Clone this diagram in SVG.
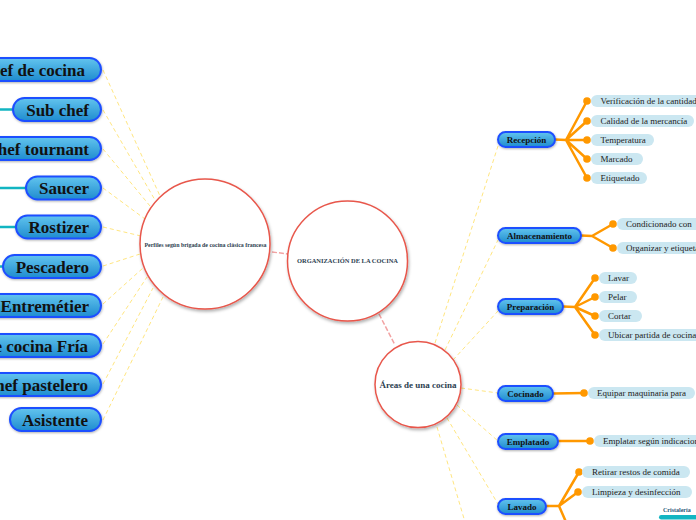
<svg xmlns="http://www.w3.org/2000/svg" width="696" height="520" viewBox="0 0 696 520">
<defs>
<linearGradient id="gBlue" x1="0" y1="0" x2="0" y2="1">
<stop offset="0" stop-color="#62c4ee"/>
<stop offset="1" stop-color="#1f8ccf"/>
</linearGradient>
<filter id="sh" x="-20%" y="-20%" width="140%" height="140%">
<feDropShadow dx="1" dy="2" stdDeviation="1.5" flood-color="#000" flood-opacity="0.3"/>
</filter>
<filter id="sh2" x="-20%" y="-40%" width="140%" height="180%">
<feDropShadow dx="0.5" dy="1" stdDeviation="0.8" flood-color="#000" flood-opacity="0.3"/>
</filter>
</defs>
<style>
.circ{fill:#fff;stroke:#e8574b;stroke-width:1.5;filter:url(#sh)}
.ct{font-family:"Liberation Serif",serif;font-weight:bold;fill:#2c3e50;text-anchor:middle}
.bn{fill:url(#gBlue);stroke:#1f4fff;stroke-width:2;filter:url(#sh2)}
.bt{font-family:"Liberation Serif",serif;font-weight:bold;fill:#111;font-size:17px;text-anchor:end}
.bts{font-family:"Liberation Serif",serif;font-weight:bold;fill:#111;font-size:9px;text-anchor:middle}
.lp{fill:#cbe7f1}
.lt{font-family:"Liberation Serif",serif;fill:#222;font-size:9px}
.dot{fill:#ff9800}
.ol{stroke:#ff9800;stroke-width:2.5;fill:none;stroke-linecap:round}
.yl{stroke:#ffe680;stroke-width:1;stroke-dasharray:4 3;fill:none}
.pl{stroke:#f2a3a3;stroke-width:1.5;stroke-dasharray:5 2;fill:none}
.tl{stroke:#12b5c2;stroke-width:2.5;fill:none}
</style>

<g id="connectors">
<line class="tl" x1="0" y1="109.5" x2="13" y2="109.5"/>
<line class="tl" x1="0" y1="188" x2="26" y2="188"/>
<line class="tl" x1="0" y1="227" x2="16" y2="227"/>
<line class="tl" x1="0" y1="266.5" x2="3" y2="266.5"/>
<line class="yl" x1="103" y1="70" x2="160" y2="196"/>
<line class="yl" x1="103" y1="110" x2="155" y2="200"/>
<line class="yl" x1="103" y1="149" x2="150" y2="206"/>
<line class="yl" x1="103" y1="188" x2="145" y2="219"/>
<line class="yl" x1="103" y1="227" x2="141" y2="236"/>
<line class="yl" x1="103" y1="266" x2="140" y2="254"/>
<line class="yl" x1="103" y1="304" x2="143" y2="268"/>
<line class="yl" x1="103" y1="344" x2="147" y2="277"/>
<line class="yl" x1="103" y1="384" x2="153" y2="288"/>
<line class="yl" x1="103" y1="420" x2="163" y2="297"/>
<line class="pl" x1="272" y1="252" x2="288" y2="254"/>
<line class="pl" x1="379" y1="314" x2="395" y2="345"/>
<line class="yl" x1="435" y1="343" x2="498" y2="146"/>
<line class="yl" x1="445" y1="350" x2="498" y2="240"/>
<line class="yl" x1="453" y1="360" x2="498" y2="311"/>
<line class="yl" x1="461" y1="388" x2="498" y2="393"/>
<line class="yl" x1="457" y1="405" x2="498" y2="441"/>
<line class="yl" x1="447" y1="418" x2="498" y2="504"/>
<line class="yl" x1="437" y1="427" x2="465" y2="522"/>
<path class="ol" d="M555 139.5 L566 140 M566 140 L587 101 M566 140 L587 121 M566 140 L587 140 M566 140 L587 159 M566 140 L587 178"/>
<path class="ol" d="M581 235.5 L592 236 M592 236 L613 224 M592 236 L613 248"/>
<path class="ol" d="M563 306.5 L575 307 M575 307 L595 278 M575 307 L595 297 M575 307 L595 316 M575 307 L595 335"/>
<path class="ol" d="M553 393.5 L584 393"/>
<path class="ol" d="M558 441 L590 441"/>
<path class="ol" d="M546 506 L559 506 M559 506 L579 472 M559 506 L578 492 M559 506 L566 522"/>
</g>

<g id="n-organizacion">
<circle class="circ" cx="347.5" cy="261" r="60"/>
<text class="ct" x="347.5" y="263" font-size="6.2" textLength="101" lengthAdjust="spacingAndGlyphs">ORGANIZACIÓN DE LA COCINA</text>
</g>

<g id="n-perfiles">
<circle class="circ" cx="205" cy="244" r="65"/>
<text class="ct" x="205.5" y="247" font-size="5.6" textLength="122" lengthAdjust="spacingAndGlyphs">Perfiles según brigada de cocina clásica francesa</text>
</g>

<g id="n-areas">
<circle class="circ" cx="418" cy="384.5" r="43"/>
<text class="ct" x="418" y="388" font-size="9">Áreas de una cocina</text>
</g>

<g id="n-chef-cocina"><rect class="bn" x="-31" y="58" width="132" height="23" rx="11.5"/><text class="bt" x="85" y="75.5">Chef de cocina</text></g>
<g id="n-sub-chef"><rect class="bn" x="13" y="98" width="88" height="23" rx="11.5"/><text class="bt" x="89" y="115.5">Sub chef</text></g>
<g id="n-chef-tournant"><rect class="bn" x="-27" y="137" width="128" height="23" rx="11.5"/><text class="bt" x="89" y="154.5">Chef tournant</text></g>
<g id="n-saucer"><rect class="bn" x="26" y="176.5" width="75" height="23" rx="11.5"/><text class="bt" x="89" y="194">Saucer</text></g>
<g id="n-rostizer"><rect class="bn" x="16" y="215.5" width="85" height="23" rx="11.5"/><text class="bt" x="89" y="233">Rostizer</text></g>
<g id="n-pescadero"><rect class="bn" x="3" y="255" width="98" height="23" rx="11.5"/><text class="bt" x="89" y="272.5">Pescadero</text></g>
<g id="n-entremetier"><rect class="bn" x="-12" y="294" width="113" height="23" rx="11.5"/><text class="bt" x="89" y="311.5">Entremétier</text></g>
<g id="n-chef-fria"><rect class="bn" x="-70" y="334" width="171" height="23" rx="11.5"/><text class="bt" x="88" y="351.5">Chef de cocina Fría</text></g>
<g id="n-chef-pastelero"><rect class="bn" x="-35" y="373" width="136" height="23" rx="11.5"/><text class="bt" x="88" y="390.5">Chef pastelero</text></g>
<g id="n-asistente"><rect class="bn" x="10" y="408" width="91" height="23" rx="11.5"/><text class="bt" x="88" y="425.5">Asistente</text></g>

<g id="n-recepcion"><rect class="bn" x="498" y="132" width="57" height="15" rx="7.5" stroke-width="1.5"/><text class="bts" x="526.5" y="142.5">Recepción</text></g>
<g id="n-almacenamiento"><rect class="bn" x="498" y="228" width="83" height="15" rx="7.5" stroke-width="1.5"/><text class="bts" x="539.5" y="238.5">Almacenamiento</text></g>
<g id="n-preparacion"><rect class="bn" x="498" y="299" width="65" height="15" rx="7.5" stroke-width="1.5"/><text class="bts" x="530.5" y="309.5">Preparación</text></g>
<g id="n-cocinado"><rect class="bn" x="498" y="386" width="55" height="15" rx="7.5" stroke-width="1.5"/><text class="bts" x="525.5" y="396.5">Cocinado</text></g>
<g id="n-emplatado"><rect class="bn" x="498" y="434" width="60" height="15" rx="7.5" stroke-width="1.5"/><text class="bts" x="528" y="444.5">Emplatado</text></g>
<g id="n-lavado"><rect class="bn" x="498" y="499" width="48" height="15" rx="7.5" stroke-width="1.5"/><text class="bts" x="522" y="510" font-size="11">Lavado</text></g>

<g id="n-verificacion"><circle class="dot" cx="587" cy="101" r="3.8"/><rect class="lp" x="591" y="95" width="120" height="12" rx="6"/><text class="lt" x="600.5" y="104">Verificación de la cantidad</text></g>
<g id="n-calidad"><circle class="dot" cx="587" cy="121" r="3.8"/><rect class="lp" x="591" y="115" width="103" height="12" rx="6"/><text class="lt" x="600.5" y="124">Calidad de la mercancía</text></g>
<g id="n-temperatura"><circle class="dot" cx="587" cy="140" r="3.8"/><rect class="lp" x="591" y="134" width="63" height="12" rx="6"/><text class="lt" x="600.5" y="143">Temperatura</text></g>
<g id="n-marcado"><circle class="dot" cx="587" cy="159" r="3.8"/><rect class="lp" x="591" y="153" width="52" height="12" rx="6"/><text class="lt" x="600.5" y="162">Marcado</text></g>
<g id="n-etiquetado"><circle class="dot" cx="587" cy="178" r="3.8"/><rect class="lp" x="591" y="172" width="56" height="12" rx="6"/><text class="lt" x="600.5" y="181">Etiquetado</text></g>

<g id="n-condicionado"><circle class="dot" cx="613" cy="224" r="3.8"/><rect class="lp" x="617" y="218" width="100" height="12" rx="6"/><text class="lt" x="626" y="227">Condicionado con</text></g>
<g id="n-organizar"><circle class="dot" cx="613" cy="248" r="3.8"/><rect class="lp" x="617" y="242" width="100" height="12" rx="6"/><text class="lt" x="626" y="251">Organizar y etiquetar</text></g>

<g id="n-lavar"><circle class="dot" cx="595" cy="278" r="3.8"/><rect class="lp" x="599" y="272" width="38" height="12" rx="6"/><text class="lt" x="608" y="281">Lavar</text></g>
<g id="n-pelar"><circle class="dot" cx="595" cy="297" r="3.8"/><rect class="lp" x="599" y="291" width="38" height="12" rx="6"/><text class="lt" x="608" y="300">Pelar</text></g>
<g id="n-cortar"><circle class="dot" cx="595" cy="316" r="3.8"/><rect class="lp" x="599" y="310" width="43" height="12" rx="6"/><text class="lt" x="608" y="319">Cortar</text></g>
<g id="n-ubicar"><circle class="dot" cx="595" cy="335" r="3.8"/><rect class="lp" x="599" y="329" width="110" height="12" rx="6"/><text class="lt" x="608" y="338">Ubicar partida de cocina</text></g>

<g id="n-equipar"><circle class="dot" cx="584" cy="393" r="3.8"/><rect class="lp" x="588" y="387" width="107" height="12" rx="6"/><text class="lt" x="597" y="396">Equipar maquinaria para</text></g>
<g id="n-emplatar"><circle class="dot" cx="590" cy="441" r="3.8"/><rect class="lp" x="594" y="435" width="120" height="12" rx="6"/><text class="lt" x="603" y="444">Emplatar según indicaciones</text></g>

<g id="n-retirar"><circle class="dot" cx="579" cy="472" r="3.8"/><rect class="lp" x="582" y="466" width="108" height="12" rx="6"/><text class="lt" x="592" y="475">Retirar restos de comida</text></g>
<g id="n-limpieza"><circle class="dot" cx="578" cy="492" r="3.8"/><rect class="lp" x="582" y="486" width="110" height="12" rx="6"/><text class="lt" x="592" y="495">Limpieza y desinfección</text></g>

<g id="n-cristaleria"><text x="663" y="511.5" font-family="Liberation Serif, serif" font-weight="bold" font-size="6" fill="#1f5577">Cristalería</text><rect x="659" y="515" width="45" height="4.5" rx="2.2" fill="#12b5c2"/></g>
</svg>
